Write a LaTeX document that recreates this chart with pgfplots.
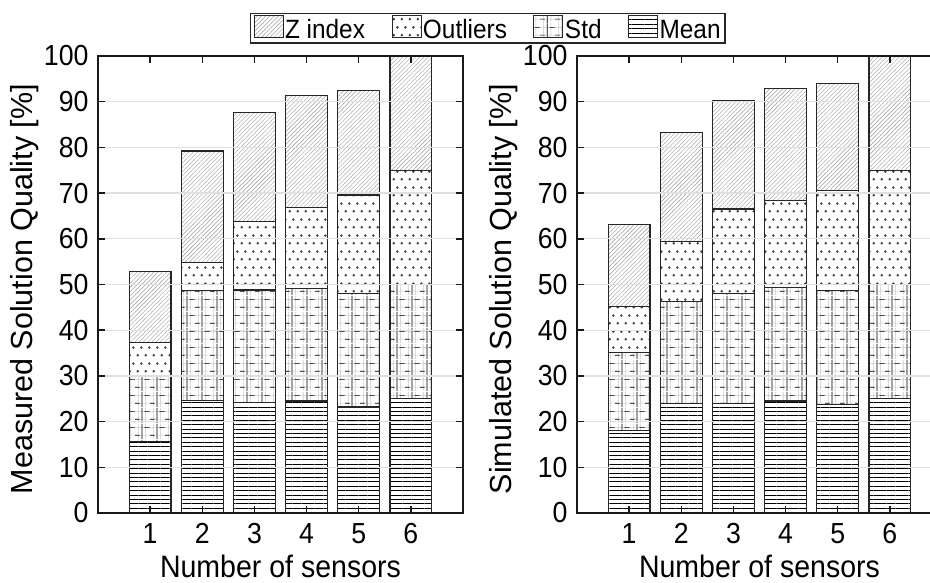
\documentclass[border=0pt]{standalone}
\usepackage{pgfplots}
\pgfplotsset{compat=1.18}
\usepackage{fontspec}
\setmainfont{Liberation Sans}
\newfontfamily\narrowfont{Liberation Sans}[FakeStretch=0.92]
\usetikzlibrary{patterns,patterns.meta}

\tikzdeclarepattern{
  name=stdpat, type=colored,
  bottom left={(0pt,0pt)}, top right={(15pt,16pt)},
  tile size={(15pt,16pt)},
  code={
    \draw[black!22, line width=0.5pt] (0pt,4pt) -- (15pt,4pt) (0pt,12pt) -- (15pt,12pt)
        (3.75pt,0pt) -- (3.75pt,16pt) (11.25pt,0pt) -- (11.25pt,16pt);
    \draw[black, line width=0.7pt] (7.5pt,0pt) -- (7.5pt,16pt);
    \draw[black, line width=0.7pt] (0pt,4pt) -- (5pt,4pt);
    \draw[black, line width=0.7pt] (10pt,12pt) -- (15pt,12pt);
  }
}
\tikzdeclarepattern{
  name=mydots, type=colored,
  bottom left={(0pt,0pt)}, top right={(8pt,16pt)},
  tile size={(8pt,16pt)},
  code={
    \fill[black!75] (2pt,4pt) circle (1.5pt) (6pt,12pt) circle (1.5pt);
  }
}

\pgfplotsset{
  mybars/.style={
    scale only axis, width=365pt, height=457pt,
    ybar stacked, bar width=0.8,
    xmin=0, xmax=7, ymin=0, ymax=100,
    xtick={1,...,6}, ytick={0,10,...,100},
    tick align=inside, major tick length=7pt,
    axis line style={black!90, line width=1.5pt},
    every tick/.style={black!90, line width=1.5pt},
    ymajorgrids, grid style={black!12, line width=1.3pt},
    axis on top,
    tick label style={font=\narrowfont\fontsize{29}{32}\selectfont},
    xlabel style={font=\narrowfont\fontsize{31}{34}\selectfont},
    ylabel style={font=\fontsize{30.5}{34}\selectfont},
    /pgf/number format/assume math mode=true,
    xticklabel style={yshift=-7pt},
    yticklabel style={xshift=-6pt},
    xlabel style={at={(axis description cs:0.5,-0.142)}, anchor=base},
    ylabel style={at={(axis description cs:-0.2,0.49)}, anchor=center},
    xlabel={Number of sensors},
  },
  bstyle/.style={draw=black!85, line width=1.2pt},
  mean/.style={bstyle, pattern={Lines[angle=0,distance=4.4pt,line width=0.7pt]}, pattern color=black},
  std/.style={bstyle, pattern=stdpat},
  outl/.style={bstyle, pattern=mydots},
  zidx/.style={bstyle, pattern={Lines[angle=45,distance=3pt,line width=0.4pt]}, pattern color=black!40},
}

\begin{document}
\begin{tikzpicture}[x=1pt,y=1pt]
\begin{axis}[mybars, at={(98pt,70pt)}, anchor=south west,
  ylabel={Measured Solution Quality [\%]},
  reverse legend,
  legend image code/.code={\draw[#1,/tikz/.cd,line width=1pt] (0pt,-7pt) rectangle (29pt,15pt);},
  legend style={at={(1.068,1.094)}, anchor=north, legend columns=4,
    draw=black!85, line width=1.2pt, font=\narrowfont\fontsize{26.5}{30}\selectfont,
    nodes={inner sep=1.5pt},
    /tikz/every even column/.append style={column sep=25pt},
    inner xsep=3pt, inner ysep=1pt},
]
\addplot[mean] coordinates {(1,15.7) (2,24.7) (3,24.1) (4,24.5) (5,23.2) (6,25.0)};
\addplot[std] coordinates {(1,14.1) (2,23.9) (3,24.7) (4,24.7) (5,24.9) (6,25.0)};
\addplot[outl] coordinates {(1,7.5) (2,6.2) (3,14.9) (4,17.7) (5,21.5) (6,25.0)};
\addplot[zidx] coordinates {(1,15.5) (2,24.4) (3,24.0) (4,24.4) (5,22.9) (6,25.0)};
\legend{Mean,Std,Outliers,Z index}
\end{axis}
\begin{axis}[mybars, at={(577pt,70pt)}, anchor=south west,
  ylabel={Simulated Solution Quality [\%]},
]
\addplot[mean] coordinates {(1,18.1) (2,24.0) (3,24.0) (4,24.5) (5,23.7) (6,25.0)};
\addplot[std] coordinates {(1,17.0) (2,22.3) (3,24.0) (4,24.8) (5,25.0) (6,25.0)};
\addplot[outl] coordinates {(1,10.1) (2,13.1) (3,18.5) (4,19.0) (5,21.9) (6,25.0)};
\addplot[zidx] coordinates {(1,17.9) (2,23.9) (3,23.7) (4,24.5) (5,23.4) (6,25.0)};
\end{axis}
\pgfresetboundingbox
\path[use as bounding box] (0pt,0pt) rectangle (930pt,583pt);
\end{tikzpicture}
\end{document}
